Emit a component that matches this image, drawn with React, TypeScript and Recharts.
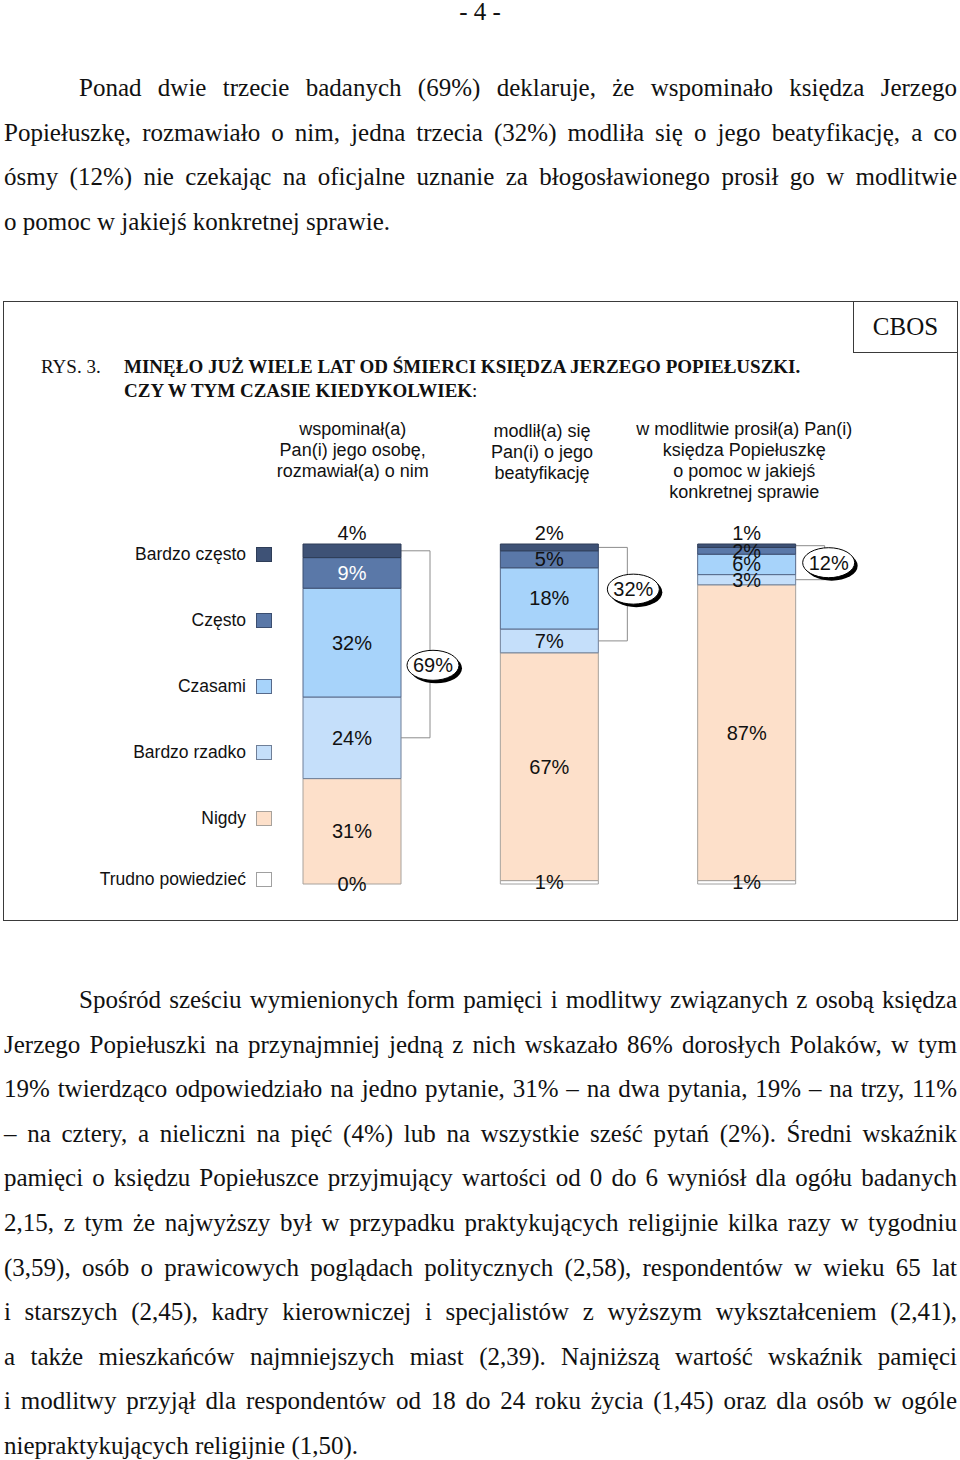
import React from 'react';
import { BarChart, Bar, XAxis, YAxis, LabelList, Legend, Rectangle } from 'recharts';

const SERIF = '"Liberation Serif", "Times New Roman", serif';
const SANS = '"Liberation Sans", Arial, sans-serif';

// pytania (kategorie)
const questions = [
  'wspominał(a)\nPan(i) jego osobę,\nrozmawiał(a) o nim',
  'modlił(a) się\nPan(i) o jego\nbeatyfikację',
  'w modlitwie prosił(a) Pan(i)\nksiędza Popiełuszkę\no pomoc w jakiejś\nkonkretnej sprawie',
];

// odpowiedzi w %
const bardzoCzesto = [4, 2, 1];
const czesto = [9, 5, 2];
const czasami = [32, 18, 6];
const bardzoRzadko = [24, 7, 3];
const nigdy = [31, 67, 87];
const trudno = [0, 1, 1];
// suma odpowiedzi twierdzących
const razem = [69, 32, 12];

const data = questions.map((q, i) => ({
  q,
  trudno: trudno[i],
  nigdy: nigdy[i],
  bardzoRzadko: bardzoRzadko[i],
  czasami: czasami[i],
  czesto: czesto[i],
  bardzoCzesto: bardzoCzesto[i],
}));

// kolejność od dołu słupka
const series = [
  { key: 'trudno', name: 'Trudno powiedzieć', fill: '#FFFFFF', stroke: '#A0A0A0' },
  { key: 'nigdy', name: 'Nigdy', fill: '#FDE0CA', stroke: '#A8A29C' },
  { key: 'bardzoRzadko', name: 'Bardzo rzadko', fill: '#C5DFFA', stroke: '#6F7F98' },
  { key: 'czasami', name: 'Czasami', fill: '#A7D3FA', stroke: '#56698A' },
  { key: 'czesto', name: 'Często', fill: '#5A78A8', stroke: '#3B4E70' },
  { key: 'bardzoCzesto', name: 'Bardzo często', fill: '#3E5276', stroke: '#2E3D58' },
];

const headerDx = [1, -7, -2];
const bubbleOffset = [
  { dx: 3, dy: 21 },
  { dx: 6, dy: -5 },
  { dx: 4, dy: 0 },
];

const para1 = [
  'Ponad dwie trzecie badanych (69%) deklaruje, że wspominało księdza Jerzego',
  'Popiełuszkę, rozmawiało o nim, jedna trzecia (32%) modliła się o jego beatyfikację, a co',
  'ósmy (12%) nie czekając na oficjalne uznanie za błogosławionego prosił go w modlitwie',
  'o pomoc w jakiejś konkretnej sprawie.',
];

const para2 = [
  'Spośród sześciu wymienionych form pamięci i modlitwy związanych z osobą księdza',
  'Jerzego Popiełuszki na przynajmniej jedną z nich wskazało 86% dorosłych Polaków, w tym',
  '19% twierdząco odpowiedziało na jedno pytanie, 31% – na dwa pytania, 19% – na trzy, 11%',
  '– na cztery, a nieliczni na pięć (4%) lub na wszystkie sześć pytań (2%). Średni wskaźnik',
  'pamięci o księdzu Popiełuszce przyjmujący wartości od 0 do 6 wyniósł dla ogółu badanych',
  '2,15, z tym że  najwyższy był w przypadku praktykujących religijnie kilka razy w tygodniu',
  '(3,59), osób o prawicowych poglądach politycznych (2,58), respondentów w wieku 65 lat',
  'i starszych (2,45), kadry kierowniczej i specjalistów z wyższym wykształceniem (2,41),',
  'a także mieszkańców najmniejszych miast (2,39). Najniższą wartość wskaźnik pamięci',
  'i modlitwy przyjął dla respondentów od 18 do 24 roku życia (1,45) oraz dla osób w ogóle',
  'niepraktykujących religijnie (1,50).',
];

function Paragraph({ lines, top }: { lines: string[]; top: number }) {
  return (
    <div style={{ position: 'absolute', left: 4, top, width: 953, fontFamily: SERIF, fontSize: 25, lineHeight: '44.6px', color: '#111' }}>
      {lines.map((l, i) => {
        const last = i === lines.length - 1;
        return (
          <div
            key={i}
            style={{
              whiteSpace: 'nowrap',
              textAlign: last ? 'left' : 'justify',
              textAlignLast: last ? 'left' : 'justify',
              paddingLeft: i === 0 ? 75 : 0,
            }}
          >
            {l}
          </div>
        );
      })}
    </div>
  );
}

const box = (p: any) => {
  const v = p.viewBox && p.viewBox.width !== undefined ? p.viewBox : p;
  return { x: Number(v.x), y: Number(v.y), w: Number(v.width), h: Number(v.height) };
};

const pct = (x: number, y: number, v: number, fill = '#111') => (
  <text x={x} y={y} textAnchor="middle" dominantBaseline="central" fontFamily={SANS} fontSize={20} fill={fill}>
    {v}%
  </text>
);

const makeLabel = (key: string) => (p: any) => {
  const { x, y, w, h } = box(p);
  const i = p.index ?? 0;
  const above = key === 'bardzoCzesto';
  const cy = above ? y - 11 : y + h / 2;
  const white = key === 'czesto' && i === 0;
  return pct(x + w / 2, cy, p.value, white ? '#FFFFFF' : '#111');
};

// etykieta "trudno powiedzieć" pod segmentem "nigdy" (działa też dla 0%)
const trudnoLabel = (p: any) => {
  const { x, y, w, h } = box(p);
  const i = p.index ?? 0;
  const ppu = h / nigdy[i];
  return pct(x + w / 2, y + h + (trudno[i] * ppu) / 2, trudno[i]);
};

// słupek "bardzo rzadko" z klamrą i sumą
const RzadkoShape = (p: any) => {
  const { x, y, width, height, index } = p;
  const i = index ?? 0;
  const ppu = height / bardzoRzadko[i];
  const top = y - (czasami[i] + czesto[i] + bardzoCzesto[i]) * ppu;
  const y1 = top + (bardzoCzesto[i] * ppu) / 2;
  const y2 = y + height / 2;
  const bx = x + width + 29;
  const cx = bx + bubbleOffset[i].dx;
  const cy = (y1 + y2) / 2 + bubbleOffset[i].dy;
  return (
    <g>
      <Rectangle {...p} />
      <polyline
        points={`${x + width},${y1} ${bx},${y1} ${bx},${y2} ${x + width},${y2}`}
        fill="none"
        stroke="#8C8C8C"
        strokeWidth={1}
      />
      <ellipse cx={cx + 3} cy={cy + 3} rx={26} ry={15} fill="#000" />
      <ellipse cx={cx} cy={cy} rx={26} ry={15} fill="#fff" stroke="#000" strokeWidth={1} />
      {pct(cx, cy, razem[i])}
    </g>
  );
};

const QuestionTick = (p: any) => {
  const { x, y, payload, index } = p;
  const lines = String(payload.value).split('\n');
  const i = index ?? 0;
  return (
    <g>
      {lines.map((l, k) => (
        <text
          key={k}
          x={x + headerDx[i]}
          y={y - 107 + k * 21 + (i === 1 ? 2 : 0)}
          textAnchor="middle"
          dominantBaseline="central"
          fontFamily={SANS}
          fontSize={18}
          fill="#111"
        >
          {l}
        </text>
      ))}
    </g>
  );
};

const LegendBox = () => {
  const items = [...series].reverse();
  return (
    <div style={{ width: 272 }}>
      {items.map((s, i) => (
        <div
          key={s.key}
          style={{
            height: 66,
            marginTop: i === 5 ? -5 : 0,
            display: 'flex',
            alignItems: 'center',
            justifyContent: 'flex-end',
          }}
        >
          <span style={{ fontFamily: SANS, fontSize: 17.5, color: '#111' }}>{s.name}</span>
          <span
            style={{
              display: 'inline-block',
              width: 16,
              height: 15,
              marginLeft: 10,
              background: s.fill,
              border: `1px solid ${s.stroke}`,
              boxSizing: 'border-box',
            }}
          />
        </div>
      ))}
    </div>
  );
};

export default function App() {
  return (
    <div style={{ position: 'relative', width: 960, height: 1460, background: '#fff', overflow: 'hidden' }}>
      <style>{'body{margin:0}'}</style>

      <div style={{ position: 'absolute', left: 0, top: 0, width: 960, textAlign: 'center', fontFamily: SERIF, fontSize: 25, lineHeight: '23px', color: '#111' }}>
        - 4 -
      </div>

      <Paragraph lines={para1} top={66} />

      {/* ramka rysunku */}
      <div style={{ position: 'absolute', left: 3, top: 301, width: 955, height: 620, border: '1.5px solid #3a3a3a', boxSizing: 'border-box' }} />
      <div style={{ position: 'absolute', left: 853, top: 301, width: 105, height: 52, border: '1.5px solid #3a3a3a', boxSizing: 'border-box', fontFamily: SERIF, fontSize: 25, lineHeight: '49px', textAlign: 'center', color: '#111' }}>
        CBOS
      </div>
      <div style={{ position: 'absolute', left: 41, top: 355, fontFamily: SERIF, fontSize: 19, lineHeight: '24px', color: '#111' }}>RYS. 3.</div>
      <div style={{ position: 'absolute', left: 124, top: 355, fontFamily: SERIF, fontSize: 19, lineHeight: '24px', fontWeight: 'bold', color: '#111' }}>
        MINĘŁO JUŻ WIELE LAT OD ŚMIERCI KSIĘDZA JERZEGO POPIEŁUSZKI.
        <br />
        CZY W TYM CZASIE KIEDYKOLWIEK<span style={{ fontWeight: 'normal' }}>:</span>
      </div>

      <div style={{ position: 'absolute', left: 0, top: 300 }}>
        <BarChart width={960} height={620} data={data} margin={{ top: 114, right: 115, bottom: 36, left: 253 }}>
          <XAxis
            dataKey="q"
            orientation="top"
            height={130}
            axisLine={false}
            tickLine={false}
            interval={0}
            tick={<QuestionTick />}
          />
          <YAxis hide domain={[0, 100]} />
          <Legend
            layout="vertical"
            align="center"
            verticalAlign="middle"
            content={<LegendBox />}
            wrapperStyle={{ left: 0, top: 221, width: 272 }}
          />
          {series.map((s) => (
            <Bar
              key={s.key}
              dataKey={s.key}
              name={s.name}
              stackId="a"
              fill={s.fill}
              stroke={s.stroke}
              strokeWidth={1}
              barSize={98}
              isAnimationActive={false}
              shape={s.key === 'bardzoRzadko' ? <RzadkoShape /> : undefined}
            >
              {s.key !== 'trudno' && <LabelList dataKey={s.key} content={makeLabel(s.key)} />}
              {s.key === 'nigdy' && <LabelList dataKey="nigdy" content={trudnoLabel} />}
            </Bar>
          ))}
        </BarChart>
      </div>

      <Paragraph lines={para2} top={978} />
    </div>
  );
}
